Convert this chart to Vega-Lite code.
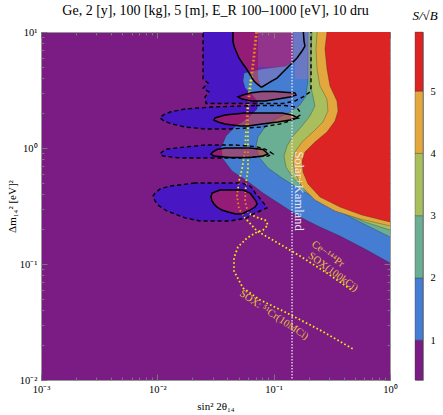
{
"$schema": "https://vega.github.io/schema/vega-lite/v6.json",
"background": "white",
"padding": {"left": 5, "top": 3, "right": 2, "bottom": 2},
"bounds": "flush",
"config": {
  "font": "Liberation Serif",
  "view": {"stroke": null},
  "axis": {"labelFont": "Liberation Serif", "titleFont": "Liberation Serif", "labelColor": "#000", "titleColor": "#000", "titleFontWeight": "normal", "grid": false, "domain": false, "tickColor": "#777", "labelFontSize": 10.5, "titleFontSize": 11},
  "title": {"font": "Liberation Serif", "fontWeight": "normal", "fontSize": 14, "color": "#000"}
},
"datasets": {
  "bands": [
    {"b":1,"y":1.05,"x":-0.834},{"b":1,"y":1,"x":-0.834},{"b":1,"y":0.750,"x":-0.834},{"b":1,"y":0.707,"x":-0.894},{"b":1,"y":0.681,"x":-1.100},{"b":1,"y":0.647,"x":-1.255},{"b":1,"y":0.578,"x":-1.264},{"b":1,"y":0.517,"x":-1.246},{"b":1,"y":0.457,"x":-1.186},{"b":1,"y":0.397,"x":-1.135},{"b":1,"y":0.336,"x":-1.143},{"b":1,"y":0.259,"x":-1.221},{"b":1,"y":0.190,"x":-1.324},{"b":1,"y":0.103,"x":-1.410},{"b":1,"y":0.000,"x":-1.453},{"b":1,"y":-0.095,"x":-1.436},{"b":1,"y":-0.198,"x":-1.358},{"b":1,"y":-0.284,"x":-1.229},{"b":1,"y":-0.388,"x":-1.092},{"b":1,"y":-0.483,"x":-0.946},{"b":1,"y":-0.595,"x":-0.774},{"b":1,"y":-0.681,"x":-0.602},{"b":1,"y":-0.759,"x":-0.430},{"b":1,"y":-0.871,"x":-0.215},{"b":1,"y":-0.991,"x":0},
    {"b":2,"y":1.05,"x":-0.705},{"b":2,"y":1,"x":-0.705},{"b":2,"y":0.578,"x":-0.705},{"b":2,"y":0.448,"x":-0.722},{"b":2,"y":0.371,"x":-0.774},{"b":2,"y":0.310,"x":-0.860},{"b":2,"y":0.250,"x":-0.980},{"b":2,"y":0.181,"x":-1.074},{"b":2,"y":0.095,"x":-1.135},{"b":2,"y":0.009,"x":-1.152},{"b":2,"y":-0.078,"x":-1.126},{"b":2,"y":-0.172,"x":-1.049},{"b":2,"y":-0.259,"x":-0.928},{"b":2,"y":-0.345,"x":-0.791},{"b":2,"y":-0.431,"x":-0.645},{"b":2,"y":-0.526,"x":-0.473},{"b":2,"y":-0.638,"x":-0.258},{"b":2,"y":-0.767,"x":0},
    {"b":3,"y":1.05,"x":-0.670},{"b":3,"y":1,"x":-0.670},{"b":3,"y":0.836,"x":-0.679},{"b":3,"y":0.681,"x":-0.679},{"b":3,"y":0.552,"x":-0.688},{"b":3,"y":0.448,"x":-0.662},{"b":3,"y":0.362,"x":-0.645},{"b":3,"y":0.276,"x":-0.688},{"b":3,"y":0.190,"x":-0.756},{"b":3,"y":0.103,"x":-0.834},{"b":3,"y":0.017,"x":-0.885},{"b":3,"y":-0.069,"x":-0.911},{"b":3,"y":-0.164,"x":-0.894},{"b":3,"y":-0.267,"x":-0.825},{"b":3,"y":-0.371,"x":-0.705},{"b":3,"y":-0.466,"x":-0.559},{"b":3,"y":-0.560,"x":-0.387},{"b":3,"y":-0.638,"x":-0.215},{"b":3,"y":-0.707,"x":0},
    {"b":4,"y":1.05,"x":-0.627},{"b":4,"y":1,"x":-0.627},{"b":4,"y":0.853,"x":-0.636},{"b":4,"y":0.681,"x":-0.627},{"b":4,"y":0.534,"x":-0.602},{"b":4,"y":0.422,"x":-0.542},{"b":4,"y":0.319,"x":-0.533},{"b":4,"y":0.224,"x":-0.576},{"b":4,"y":0.138,"x":-0.662},{"b":4,"y":0.052,"x":-0.756},{"b":4,"y":-0.034,"x":-0.817},{"b":4,"y":-0.112,"x":-0.834},{"b":4,"y":-0.216,"x":-0.817},{"b":4,"y":-0.336,"x":-0.756},{"b":4,"y":-0.448,"x":-0.645},{"b":4,"y":-0.543,"x":-0.473},{"b":4,"y":-0.612,"x":-0.258},{"b":4,"y":-0.672,"x":0},
    {"b":5,"y":1.05,"x":-0.542},{"b":5,"y":1,"x":-0.542},{"b":5,"y":0.853,"x":-0.559},{"b":5,"y":0.681,"x":-0.542},{"b":5,"y":0.534,"x":-0.516},{"b":5,"y":0.405,"x":-0.456},{"b":5,"y":0.319,"x":-0.447},{"b":5,"y":0.233,"x":-0.473},{"b":5,"y":0.138,"x":-0.542},{"b":5,"y":0.052,"x":-0.645},{"b":5,"y":-0.034,"x":-0.731},{"b":5,"y":-0.112,"x":-0.756},{"b":5,"y":-0.207,"x":-0.748},{"b":5,"y":-0.310,"x":-0.705},{"b":5,"y":-0.422,"x":-0.602},{"b":5,"y":-0.509,"x":-0.430},{"b":5,"y":-0.578,"x":-0.241},{"b":5,"y":-0.638,"x":0}
  ],
  "dshape": [
    {"id":"D1f","y":1.05,"xl":-1.607,"xr":-1.135},{"id":"D1f","y":0.698,"xl":-1.607,"xr":-1.135},{"id":"D1f","y":0.690,"xl":-1.607,"xr":-0.774},{"id":"D1f","y":0.595,"xl":-1.607,"xr":-0.774},{"id":"D1f","y":0.560,"xl":-1.564,"xr":-0.774},{"id":"D1f","y":0.517,"xl":-1.607,"xr":-0.774},{"id":"D1f","y":0.466,"xl":-1.556,"xr":-0.774},{"id":"D1f","y":0.422,"xl":-1.590,"xr":-0.774},{"id":"D1f","y":0.384,"xl":-1.582,"xr":-0.774},
    {"id":"D1o","y":1.05,"xl":-1.607,"xr":-0.679},{"id":"D1o","y":0.595,"xl":-1.607,"xr":-0.679},{"id":"D1o","y":0.560,"xl":-1.564,"xr":-0.679},{"id":"D1o","y":0.517,"xl":-1.607,"xr":-0.679},{"id":"D1o","y":0.483,"xl":-1.556,"xr":-0.688},{"id":"D1o","y":0.440,"xl":-1.590,"xr":-0.748},{"id":"D1o","y":0.405,"xl":-1.582,"xr":-0.817},{"id":"D1o","y":0.384,"xl":-1.582,"xr":-0.920},
    {"id":"D2","y":0.366,"xl":-1.160,"xr":-0.903},{"id":"D2","y":0.353,"xl":-1.547,"xr":-0.817},{"id":"D2","y":0.336,"xl":-1.762,"xr":-0.791},{"id":"D2","y":0.310,"xl":-1.891,"xr":-0.774},{"id":"D2","y":0.284,"xl":-1.951,"xr":-0.774},{"id":"D2","y":0.259,"xl":-1.977,"xr":-0.808},{"id":"D2","y":0.233,"xl":-1.943,"xr":-0.860},{"id":"D2","y":0.207,"xl":-1.874,"xr":-0.946},{"id":"D2","y":0.181,"xl":-1.762,"xr":-1.100},{"id":"D2","y":0.164,"xl":-1.590,"xr":-1.375},
    {"id":"D3","y":0.026,"xl":-1.590,"xr":-1.332},{"id":"D3","y":0.013,"xl":-1.719,"xr":-1.160},{"id":"D3","y":-0.009,"xl":-1.917,"xr":-1.074},{"id":"D3","y":-0.034,"xl":-1.960,"xr":-1.031},{"id":"D3","y":-0.052,"xl":-1.977,"xr":-1.006},{"id":"D3","y":-0.069,"xl":-1.951,"xr":-1.049},{"id":"D3","y":-0.086,"xl":-1.805,"xr":-1.289},
    {"id":"D4","y":-0.302,"xl":-1.676,"xr":-1.272},{"id":"D4","y":-0.328,"xl":-1.891,"xr":-1.203},{"id":"D4","y":-0.353,"xl":-1.977,"xr":-1.178},{"id":"D4","y":-0.388,"xl":-2.020,"xr":-1.160},{"id":"D4","y":-0.414,"xl":-2.037,"xr":-1.135},{"id":"D4","y":-0.457,"xl":-2.020,"xr":-1.100},{"id":"D4","y":-0.491,"xl":-1.994,"xr":-1.074},{"id":"D4","y":-0.517,"xl":-1.960,"xr":-1.057},{"id":"D4","y":-0.543,"xl":-1.917,"xr":-1.117},{"id":"D4","y":-0.569,"xl":-1.848,"xr":-1.178},{"id":"D4","y":-0.603,"xl":-1.762,"xr":-1.229},{"id":"D4","y":-0.629,"xl":-1.633,"xr":-1.375}
  ],
  "lshape": [
    {"id":"S1L","y":1.05,"xl":-1.350,"xr":-1.135},{"id":"S1L","y":0.922,"xl":-1.350,"xr":-1.135},{"id":"S1L","y":0.879,"xl":-1.341,"xr":-1.135},{"id":"S1L","y":0.836,"xl":-1.324,"xr":-1.135},{"id":"S1L","y":0.776,"xl":-1.298,"xr":-1.135},{"id":"S1L","y":0.724,"xl":-1.264,"xr":-1.135},{"id":"S1L","y":0.690,"xl":-1.238,"xr":-1.135},{"id":"S1L","y":0.647,"xl":-1.212,"xr":-1.135},{"id":"S1L","y":0.603,"xl":-1.186,"xr":-1.135},{"id":"S1L","y":0.578,"xl":-1.169,"xr":-1.126},{"id":"S1L","y":0.552,"xl":-1.143,"xr":-1.117},{"id":"S1L","y":0.526,"xl":-1.109,"xr":-1.105},
    {"id":"S1","y":1.05,"xl":-1.350,"xr":-0.748},{"id":"S1","y":0.922,"xl":-1.350,"xr":-0.739},{"id":"S1","y":0.879,"xl":-1.341,"xr":-0.731},{"id":"S1","y":0.836,"xl":-1.324,"xr":-0.756},{"id":"S1","y":0.776,"xl":-1.298,"xr":-0.799},{"id":"S1","y":0.724,"xl":-1.264,"xr":-0.851},{"id":"S1","y":0.690,"xl":-1.238,"xr":-0.885},{"id":"S1","y":0.647,"xl":-1.212,"xr":-0.928},{"id":"S1","y":0.603,"xl":-1.186,"xr":-0.971},{"id":"S1","y":0.578,"xl":-1.169,"xr":-1.014},{"id":"S1","y":0.552,"xl":-1.143,"xr":-1.057},{"id":"S1","y":0.526,"xl":-1.109,"xr":-1.100},
    {"id":"L1","y":0.487,"xl":-1.100,"xr":-0.989},{"id":"L1","y":0.474,"xl":-1.203,"xr":-0.817},{"id":"L1","y":0.457,"xl":-1.264,"xr":-0.808},{"id":"L1","y":0.440,"xl":-1.307,"xr":-0.860},{"id":"L1","y":0.422,"xl":-1.272,"xr":-0.963},{"id":"L1","y":0.405,"xl":-1.186,"xr":-1.074},
    {"id":"L2","y":0.302,"xl":-1.246,"xr":-0.928},{"id":"L2","y":0.284,"xl":-1.418,"xr":-0.842},{"id":"L2","y":0.259,"xl":-1.504,"xr":-0.791},{"id":"L2","y":0.241,"xl":-1.513,"xr":-0.860},{"id":"L2","y":0.224,"xl":-1.478,"xr":-0.963},{"id":"L2","y":0.207,"xl":-1.418,"xr":-1.100},{"id":"L2","y":0.190,"xl":-1.289,"xr":-1.221},
    {"id":"L3","y":0.000,"xl":-1.418,"xr":-1.203},{"id":"L3","y":-0.013,"xl":-1.487,"xr":-1.092},{"id":"L3","y":-0.034,"xl":-1.521,"xr":-1.066},{"id":"L3","y":-0.052,"xl":-1.539,"xr":-1.049},{"id":"L3","y":-0.069,"xl":-1.513,"xr":-1.092},{"id":"L3","y":-0.082,"xl":-1.375,"xr":-1.203},
    {"id":"L4","y":-0.362,"xl":-1.461,"xr":-1.264},{"id":"L4","y":-0.388,"xl":-1.530,"xr":-1.203},{"id":"L4","y":-0.422,"xl":-1.539,"xr":-1.178},{"id":"L4","y":-0.457,"xl":-1.530,"xr":-1.152},{"id":"L4","y":-0.483,"xl":-1.513,"xr":-1.143},{"id":"L4","y":-0.509,"xl":-1.487,"xr":-1.160},{"id":"L4","y":-0.535,"xl":-1.444,"xr":-1.203},{"id":"L4","y":-0.552,"xl":-1.393,"xr":-1.238},{"id":"L4","y":-0.569,"xl":-1.324,"xr":-1.272}
  ],
  "mauve": [
    {"id":"M1","y":1.05,"xl":-1.135,"xr":-0.748},{"id":"M1","y":0.922,"xl":-1.135,"xr":-0.739},{"id":"M1","y":0.879,"xl":-1.135,"xr":-0.731},{"id":"M1","y":0.836,"xl":-1.135,"xr":-0.756},{"id":"M1","y":0.776,"xl":-1.135,"xr":-0.799},{"id":"M1","y":0.724,"xl":-1.135,"xr":-0.851},{"id":"M1","y":0.690,"xl":-1.135,"xr":-0.885},{"id":"M1","y":0.647,"xl":-1.135,"xr":-0.928},{"id":"M1","y":0.603,"xl":-1.135,"xr":-0.971},{"id":"M1","y":0.578,"xl":-1.126,"xr":-1.014},{"id":"M1","y":0.552,"xl":-1.117,"xr":-1.057},{"id":"M1","y":0.526,"xl":-1.105,"xr":-1.100},
    {"id":"M2","y":1.05,"xl":-0.748,"xr":-0.679},{"id":"M2","y":0.879,"xl":-0.731,"xr":-0.679},{"id":"M2","y":0.836,"xl":-0.756,"xr":-0.679},{"id":"M2","y":0.776,"xl":-0.799,"xr":-0.679},{"id":"M2","y":0.724,"xl":-0.817,"xr":-0.679},{"id":"M2","y":0.595,"xl":-0.817,"xr":-0.679}
  ],
  "curves": [
    {"c":"A","i":0,"x":-1.152,"y":1.0},{"c":"A","i":1,"x":-1.178,"y":0.750},{"c":"A","i":2,"x":-1.212,"y":0.491},{"c":"A","i":3,"x":-1.229,"y":0.319},{"c":"A","i":4,"x":-1.238,"y":0.147},{"c":"A","i":5,"x":-1.246,"y":-0.026},{"c":"A","i":6,"x":-1.272,"y":-0.181},{"c":"A","i":7,"x":-1.298,"y":-0.284},{"c":"A","i":8,"x":-1.315,"y":-0.414},{"c":"A","i":9,"x":-1.298,"y":-0.526},{"c":"A","i":10,"x":-1.246,"y":-0.603},{"c":"A","i":11,"x":-1.143,"y":-0.716},{"c":"A","i":12,"x":-0.963,"y":-0.819},{"c":"A","i":13,"x":-0.774,"y":-0.931},{"c":"A","i":14,"x":-0.542,"y":-1.078},{"c":"A","i":15,"x":-0.318,"y":-1.233},
    {"c":"B","i":0,"x":-1.143,"y":1.0},{"c":"B","i":1,"x":-1.169,"y":0.750},{"c":"B","i":2,"x":-1.203,"y":0.491},{"c":"B","i":3,"x":-1.221,"y":0.319},{"c":"B","i":4,"x":-1.221,"y":0.147},{"c":"B","i":5,"x":-1.221,"y":-0.026},{"c":"B","i":6,"x":-1.221,"y":-0.181},{"c":"B","i":7,"x":-1.238,"y":-0.302},{"c":"B","i":8,"x":-1.246,"y":-0.457},{"c":"B","i":9,"x":-1.221,"y":-0.560},{"c":"B","i":10,"x":-1.152,"y":-0.595},{"c":"B","i":11,"x":-1.074,"y":-0.621},{"c":"B","i":12,"x":-1.049,"y":-0.664},{"c":"B","i":13,"x":-1.092,"y":-0.707},{"c":"B","i":14,"x":-1.143,"y":-0.724},{"c":"B","i":15,"x":-1.229,"y":-0.776},{"c":"B","i":16,"x":-1.307,"y":-0.853},{"c":"B","i":17,"x":-1.341,"y":-0.948},{"c":"B","i":18,"x":-1.341,"y":-1.060},{"c":"B","i":19,"x":-1.264,"y":-1.207},{"c":"B","i":20,"x":-1.117,"y":-1.310},{"c":"B","i":21,"x":-0.920,"y":-1.405},{"c":"B","i":22,"x":-0.602,"y":-1.569},{"c":"B","i":23,"x":-0.318,"y":-1.733}
  ],
  "cbar": [
    {"lo":0.36,"hi":1,"c":"a"},{"lo":1,"hi":2,"c":"b"},{"lo":2,"hi":3,"c":"c"},{"lo":3,"hi":4,"c":"d"},{"lo":4,"hi":5,"c":"e"},{"lo":5,"hi":5.95,"c":"f"}
  ]
},
"spacing": 25,
"hconcat": [
  {
    "width": 349,
    "height": 348,
    "title": {"text": "Ge, 2 [y], 100 [kg], 5 [m], E_R 100–1000 [eV], 10 dru", "fontSize": 14, "offset": 9},
    "view": {"fill": "#7a1c84", "stroke": "#999"},
    "resolve": {"axis": {"x": "independent", "y": "independent"}},
    "layer": [
      {
        "data": {"name": "dshape"},
        "transform": [{"filter": "datum.id != 'D1o'"}],
        "mark": {"type": "area", "orient": "horizontal", "clip": true, "color": "#4816c2"},
        "encoding": {
          "y": {"field": "y", "type": "quantitative", "scale": {"domain": [-2, 1], "nice": false, "zero": false},
            "axis": {"orient": "left", "values": [-2,-1.699,-1.523,-1.398,-1.301,-1.222,-1.155,-1.097,-1.046,-1,-0.699,-0.523,-0.398,-0.301,-0.222,-0.155,-0.097,-0.046,0,0.301,0.477,0.602,0.699,0.778,0.845,0.903,0.954,1],
              "labelExpr": "datum.value == -2 ? '10⁻²' : datum.value == -1 ? '10⁻¹' : datum.value == 0 ? '10⁰' : datum.value == 1 ? '10¹' : ''",
              "title": "Δm₁₄² [eV]²", "tickSize": {"condition": {"test": "abs(datum.value - round(datum.value)) < 0.001", "value": -6}, "value": -3},
              "labelPadding": 10, "titlePadding": 2, "labelOverlap": false, "labelFlush": false}},
          "x": {"field": "xl", "type": "quantitative", "scale": {"domain": [-3, 0], "nice": false, "zero": false},
            "axis": {"orient": "bottom", "values": [-3,-2.699,-2.523,-2.398,-2.301,-2.222,-2.155,-2.097,-2.046,-2,-1.699,-1.523,-1.398,-1.301,-1.222,-1.155,-1.097,-1.046,-1,-0.699,-0.523,-0.398,-0.301,-0.222,-0.155,-0.097,-0.046,0],
              "labelExpr": "datum.value == -3 ? '10⁻³' : datum.value == -2 ? '10⁻²' : datum.value == -1 ? '10⁻¹' : datum.value == 0 ? '10⁰' : ''",
              "title": "sin² 2θ₁₄", "tickSize": {"condition": {"test": "abs(datum.value - round(datum.value)) < 0.001", "value": -6}, "value": -3},
              "labelPadding": 10, "titlePadding": 3, "labelOverlap": false, "labelFlush": false}},
          "x2": {"field": "xr"},
          "detail": {"field": "id"}
        }
      },
      {
        "data": {"name": "bands"},
        "transform": [{"filter": "datum.b == 1"}],
        "mark": {"type": "area", "orient": "horizontal", "clip": true, "color": "#447dd2", "stroke": "#222", "strokeWidth": 0.6, "strokeOpacity": 0.5},
        "encoding": {
          "y": {"field": "y", "type": "quantitative", "scale": {"domain": [-2, 1], "nice": false, "zero": false}, "axis": null},
          "x": {"field": "x", "type": "quantitative", "scale": {"domain": [-3, 0], "nice": false, "zero": false}, "axis": null},
          "x2": {"datum": 0.05}
        }
      },
      {
        "data": {"name": "bands"},
        "transform": [{"filter": "datum.b == 2"}],
        "mark": {"type": "area", "orient": "horizontal", "clip": true, "color": "#6aae94", "stroke": "#222", "strokeWidth": 0.6, "strokeOpacity": 0.5},
        "encoding": {
          "y": {"field": "y", "type": "quantitative", "scale": {"domain": [-2, 1], "nice": false, "zero": false}, "axis": null},
          "x": {"field": "x", "type": "quantitative", "scale": {"domain": [-3, 0], "nice": false, "zero": false}, "axis": null},
          "x2": {"datum": 0.05}
        }
      },
      {
        "data": {"name": "bands"},
        "transform": [{"filter": "datum.b == 3"}],
        "mark": {"type": "area", "orient": "horizontal", "clip": true, "color": "#a9bf5e", "stroke": "#222", "strokeWidth": 0.6, "strokeOpacity": 0.5},
        "encoding": {
          "y": {"field": "y", "type": "quantitative", "scale": {"domain": [-2, 1], "nice": false, "zero": false}, "axis": null},
          "x": {"field": "x", "type": "quantitative", "scale": {"domain": [-3, 0], "nice": false, "zero": false}, "axis": null},
          "x2": {"datum": 0.05}
        }
      },
      {
        "data": {"name": "bands"},
        "transform": [{"filter": "datum.b == 4"}],
        "mark": {"type": "area", "orient": "horizontal", "clip": true, "color": "#e2a83e", "stroke": "#222", "strokeWidth": 0.6, "strokeOpacity": 0.5},
        "encoding": {
          "y": {"field": "y", "type": "quantitative", "scale": {"domain": [-2, 1], "nice": false, "zero": false}, "axis": null},
          "x": {"field": "x", "type": "quantitative", "scale": {"domain": [-3, 0], "nice": false, "zero": false}, "axis": null},
          "x2": {"datum": 0.05}
        }
      },
      {
        "data": {"name": "bands"},
        "transform": [{"filter": "datum.b == 5"}],
        "mark": {"type": "area", "orient": "horizontal", "clip": true, "color": "#dd2424", "stroke": "#222", "strokeWidth": 0.6, "strokeOpacity": 0.5},
        "encoding": {
          "y": {"field": "y", "type": "quantitative", "scale": {"domain": [-2, 1], "nice": false, "zero": false}, "axis": null},
          "x": {"field": "x", "type": "quantitative", "scale": {"domain": [-3, 0], "nice": false, "zero": false}, "axis": null},
          "x2": {"datum": 0.05}
        }
      },
      {
        "data": {"name": "mauve"},
        "mark": {"type": "area", "orient": "horizontal", "clip": true, "color": "#d070a0", "opacity": 0.28},
        "encoding": {
          "y": {"field": "y", "type": "quantitative", "scale": {"domain": [-2, 1], "nice": false, "zero": false}, "axis": null},
          "x": {"field": "xl", "type": "quantitative", "scale": {"domain": [-3, 0], "nice": false, "zero": false}, "axis": null},
          "x2": {"field": "xr"},
          "detail": {"field": "id"}
        }
      },
      {
        "data": {"name": "curves"},
        "mark": {"type": "line", "clip": true, "color": "#f8f000", "strokeWidth": 1.8, "strokeDash": [1.6, 2.4]},
        "encoding": {
          "y": {"field": "y", "type": "quantitative", "scale": {"domain": [-2, 1], "nice": false, "zero": false}, "axis": null},
          "x": {"field": "x", "type": "quantitative", "scale": {"domain": [-3, 0], "nice": false, "zero": false}, "axis": null},
          "detail": {"field": "c"},
          "order": {"field": "i", "type": "quantitative"}
        }
      },
      {
        "data": {"name": "lshape"},
        "transform": [{"filter": "datum.id != 'S1'"}],
        "mark": {"type": "area", "orient": "horizontal", "clip": true, "color": "#e0202a", "opacity": 0.5},
        "encoding": {
          "y": {"field": "y", "type": "quantitative", "scale": {"domain": [-2, 1], "nice": false, "zero": false}, "axis": null},
          "x": {"field": "xl", "type": "quantitative", "scale": {"domain": [-3, 0], "nice": false, "zero": false}, "axis": null},
          "x2": {"field": "xr"},
          "detail": {"field": "id"}
        }
      },
      {
        "data": {"name": "dshape"},
        "transform": [{"filter": "datum.id != 'D1f'"}],
        "mark": {"type": "area", "orient": "horizontal", "clip": true, "filled": false, "color": "#000", "strokeWidth": 1.4, "strokeDash": [4, 3]},
        "encoding": {
          "y": {"field": "y", "type": "quantitative", "scale": {"domain": [-2, 1], "nice": false, "zero": false}, "axis": null},
          "x": {"field": "xl", "type": "quantitative", "scale": {"domain": [-3, 0], "nice": false, "zero": false}, "axis": null},
          "x2": {"field": "xr"},
          "detail": {"field": "id"}
        }
      },
      {
        "data": {"name": "lshape"},
        "transform": [{"filter": "datum.id != 'S1L'"}],
        "mark": {"type": "area", "orient": "horizontal", "clip": true, "filled": false, "color": "#000", "strokeWidth": 1.5},
        "encoding": {
          "y": {"field": "y", "type": "quantitative", "scale": {"domain": [-2, 1], "nice": false, "zero": false}, "axis": null},
          "x": {"field": "xl", "type": "quantitative", "scale": {"domain": [-3, 0], "nice": false, "zero": false}, "axis": null},
          "x2": {"field": "xr"},
          "detail": {"field": "id"}
        }
      },
      {
        "data": {"values": [{"x": -0.842}]},
        "mark": {"type": "rule", "color": "#efe6f2", "strokeWidth": 1.5, "strokeDash": [1.5, 1.5], "opacity": 0.85},
        "encoding": {
          "x": {"field": "x", "type": "quantitative", "scale": {"domain": [-3, 0], "nice": false, "zero": false},
            "axis": {"orient": "top", "values": [-3,-2.699,-2.523,-2.398,-2.301,-2.222,-2.155,-2.097,-2.046,-2,-1.699,-1.523,-1.398,-1.301,-1.222,-1.155,-1.097,-1.046,-1,-0.699,-0.523,-0.398,-0.301,-0.222,-0.155,-0.097,-0.046,0],
              "labels": false, "title": null, "tickSize": {"condition": {"test": "abs(datum.value - round(datum.value)) < 0.001", "value": -6}, "value": -3}}}
        }
      },
      {
        "data": {"values": [{"t": "Solar+Kamland", "x": -0.782, "y": -0.371}]},
        "mark": {"type": "text", "angle": 90, "align": "center", "baseline": "middle", "font": "Liberation Serif", "fontSize": 12.5, "color": "#f2e8f2"},
        "encoding": {
          "y": {"field": "y", "type": "quantitative", "scale": {"domain": [-2, 1], "nice": false, "zero": false},
            "axis": {"orient": "right", "values": [-2,-1.699,-1.523,-1.398,-1.301,-1.222,-1.155,-1.097,-1.046,-1,-0.699,-0.523,-0.398,-0.301,-0.222,-0.155,-0.097,-0.046,0,0.301,0.477,0.602,0.699,0.778,0.845,0.903,0.954,1],
              "labels": false, "title": null, "tickSize": {"condition": {"test": "abs(datum.value - round(datum.value)) < 0.001", "value": -6}, "value": -3}}},
          "x": {"field": "x", "type": "quantitative", "scale": {"domain": [-3, 0], "nice": false, "zero": false}, "axis": null},
          "text": {"field": "t"}
        }
      },
      {
        "data": {"values": [{"t": "Ce−¹⁴⁴Pr", "x": -0.533, "y": -0.914}, {"t": "SOX(100kCi)", "x": -0.490, "y": -1.069}]},
        "mark": {"type": "text", "angle": 36, "align": "center", "baseline": "middle", "font": "Liberation Serif", "fontSize": 10.5, "color": "#e8c23a"},
        "encoding": {
          "y": {"field": "y", "type": "quantitative", "scale": {"domain": [-2, 1], "nice": false, "zero": false}, "axis": null},
          "x": {"field": "x", "type": "quantitative", "scale": {"domain": [-3, 0], "nice": false, "zero": false}, "axis": null},
          "text": {"field": "t"}
        }
      },
      {
        "data": {"values": [{"t": "SOX: ⁵¹Cr(10MCi)", "x": -0.997, "y": -1.440}]},
        "mark": {"type": "text", "angle": 34, "align": "center", "baseline": "middle", "font": "Liberation Serif", "fontSize": 10.5, "color": "#e8c23a"},
        "encoding": {
          "y": {"field": "y", "type": "quantitative", "scale": {"domain": [-2, 1], "nice": false, "zero": false}, "axis": null},
          "x": {"field": "x", "type": "quantitative", "scale": {"domain": [-3, 0], "nice": false, "zero": false}, "axis": null},
          "text": {"field": "t"}
        }
      }
    ]
  },
  {
    "width": 8,
    "height": 348,
    "title": {"text": "S/√B", "fontSize": 13, "fontStyle": "italic", "offset": 9, "dx": 6},
    "view": {"stroke": "#999"},
    "data": {"name": "cbar"},
    "mark": {"type": "rect", "stroke": "#333", "strokeWidth": 0.6, "strokeOpacity": 0.6},
    "encoding": {
      "y": {"field": "lo", "type": "quantitative", "scale": {"domain": [0.36, 5.95], "nice": false, "zero": false},
        "axis": {"orient": "right", "values": [1, 2, 3, 4, 5], "title": null, "ticks": false, "labelPadding": 7, "labelFontSize": 10.5}},
      "y2": {"field": "hi"},
      "color": {"field": "c", "type": "nominal", "scale": {"domain": ["a","b","c","d","e","f"], "range": ["#7a1c84","#447dd2","#6aae94","#a9bf5e","#e2a83e","#dd2424"]}, "legend": null}
    }
  }
]
}
